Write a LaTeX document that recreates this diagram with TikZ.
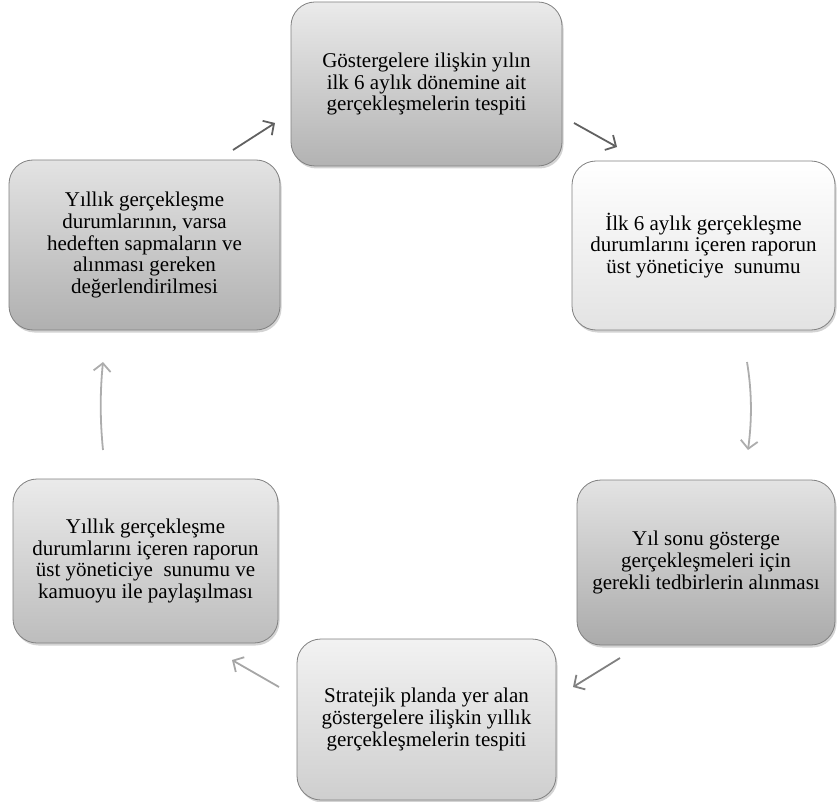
\documentclass[tikz,border=0pt]{standalone}
\usepackage{fontspec}
\setmainfont{Liberation Serif}
\usetikzlibrary{arrows.meta,shadows}

\begin{document}
\begin{tikzpicture}[
  x = 1pt,
  y = -1pt,
  stepbox/.style = {
    shape = rectangle,
    draw = black!50,
    line width = 0.8pt,
    rounded corners = 24pt,
    align = center,
    inner sep = 0pt,
    font = \fontsize{21}{21.7}\selectfont,
    drop shadow = {shadow xshift = 1.5pt, shadow yshift = -2.5pt, opacity = 0.35},
  },
  cyc/.style = {
    line width = 1.8pt,
    -{Straight Barb[length = 8pt, width = 17pt, line width = 1.8pt]}
  }
]
  \useasboundingbox (0, 0) rectangle (837, 802);

  \node[stepbox, top color = black!8, bottom color = black!30,
    minimum width = 271pt, minimum height = 164pt] (s1) at (426.5, 84)
    {Göstergelere ilişkin yılın\\ilk 6 aylık dönemine ait\\gerçekleşmelerin tespiti};
  \node[stepbox, top color = white, bottom color = black!11,
    minimum width = 263pt, minimum height = 169pt] (s2) at (703.5, 245.5)
    {İlk 6 aylık gerçekleşme\\durumlarını içeren raporun\\üst yöneticiye\ \ sunumu};
  \node[stepbox, top color = black!11, bottom color = black!33,
    minimum width = 258pt, minimum height = 165pt] (s3) at (706, 562.5)
    {Yıl sonu gösterge\\gerçekleşmeleri için\\gerekli tedbirlerin alınması};
  \node[stepbox, top color = black!5, bottom color = black!19,
    minimum width = 259pt, minimum height = 161pt] (s4) at (426.5, 719.5)
    {Stratejik planda yer alan\\göstergelere ilişkin yıllık\\gerçekleşmelerin tespiti};
  \node[stepbox, top color = black!8, bottom color = black!26,
    minimum width = 265pt, minimum height = 164pt] (s5) at (145.5, 561)
    {Yıllık gerçekleşme\\durumlarını içeren raporun\\üst yöneticiye\ \ sunumu ve\\kamuoyu ile paylaşılması};
  \node[stepbox, top color = black!11, bottom color = black!31,
    minimum width = 271pt, minimum height = 170pt] (s6) at (144.5, 245)
    {Yıllık gerçekleşme\\durumlarının, varsa\\hedeften sapmaların ve\\alınması gereken\\değerlendirilmesi};

  \coordinate (a1s) at (233, 150);
  \coordinate (a1e) at (275, 123);
  \coordinate (a2s) at (574, 123);
  \coordinate (a2e) at (617, 147);
  \coordinate (a3s) at (747, 362);
  \coordinate (a3e) at (748, 450);
  \coordinate (a4s) at (620, 658);
  \coordinate (a4e) at (573, 687);
  \coordinate (a5s) at (279, 687);
  \coordinate (a5e) at (232, 660);
  \coordinate (a6s) at (103, 450);
  \coordinate (a6e) at (103, 362);

  \draw[cyc, black!62] (a1s) -- (a1e);
  \draw[cyc, black!62] (a2s) -- (a2e);
  \draw[cyc, black!32] (a3s) .. controls (752, 392) and (752, 420) .. (a3e);
  \draw[cyc, black!50] (a4s) -- (a4e);
  \draw[cyc, black!35] (a5s) -- (a5e);
  \draw[cyc, black!32] (a6s) .. controls (100, 420) and (100, 392) .. (a6e);
\end{tikzpicture}
\end{document}
